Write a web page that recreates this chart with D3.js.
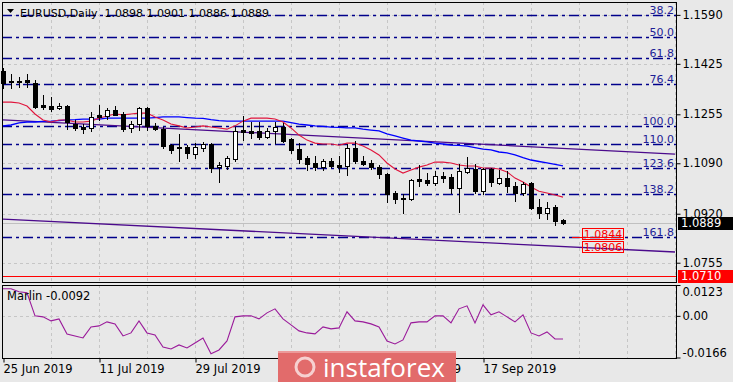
<!DOCTYPE html>
<html><head><meta charset="utf-8">
<script src="https://cdn.jsdelivr.net/npm/d3@7/dist/d3.min.js"></script>
<style>
html,body{margin:0;padding:0;background:#e8e8e8;}
svg{display:block;font-family:"DejaVu Sans",sans-serif;}
</style></head><body>
<svg id="chart" width="733" height="382"></svg>
<script>
// ---------- DATA ----------
const dates = ["2019-06-25","2019-06-26","2019-06-27","2019-06-28","2019-07-01","2019-07-02","2019-07-03","2019-07-04","2019-07-05",
"2019-07-08","2019-07-09","2019-07-10","2019-07-11","2019-07-12","2019-07-15","2019-07-16","2019-07-17","2019-07-18","2019-07-19",
"2019-07-22","2019-07-23","2019-07-24","2019-07-25","2019-07-26","2019-07-29","2019-07-30","2019-07-31","2019-08-01","2019-08-02",
"2019-08-05","2019-08-06","2019-08-07","2019-08-08","2019-08-09","2019-08-12","2019-08-13","2019-08-14","2019-08-15","2019-08-16",
"2019-08-19","2019-08-20","2019-08-21","2019-08-22","2019-08-23","2019-08-26","2019-08-27","2019-08-28","2019-08-29","2019-08-30",
"2019-09-02","2019-09-03","2019-09-04","2019-09-05","2019-09-06","2019-09-09","2019-09-10","2019-09-11","2019-09-12","2019-09-13",
"2019-09-16","2019-09-17","2019-09-18","2019-09-19","2019-09-20","2019-09-23","2019-09-24","2019-09-25","2019-09-26","2019-09-27",
"2019-09-30","2019-10-01"];
const open  = [1.1401,1.1367,1.1367,1.1372,1.1360,1.1286,1.1283,1.1275,1.1283,1.1222,1.1212,1.1209,1.1253,1.1249,1.1269,1.1256,1.1209,1.1221,1.1276,
1.1217,1.1207,1.1151,1.1145,1.1145,1.1121,1.1143,1.1155,1.1076,1.1081,1.1104,1.1202,1.1199,1.1199,1.1178,1.1199,1.1212,1.1172,1.1138,1.1108,
1.1091,1.1076,1.1098,1.1084,1.1081,1.1141,1.1098,1.1091,1.1077,1.1054,1.0990,1.0973,1.0969,1.1037,1.1034,1.1023,1.1047,1.1044,1.1008,1.1062,
1.1072,1.0996,1.1071,1.1023,1.1040,1.1013,1.0990,1.1023,1.0943,1.0922,1.0943,1.0898];
const high  = [1.1411,1.1391,1.1381,1.1391,1.1371,1.1320,1.1313,1.1293,1.1286,1.1236,1.1222,1.1263,1.1286,1.1276,1.1283,1.1263,1.1232,1.1280,1.1280,
1.1226,1.1212,1.1155,1.1189,1.1151,1.1158,1.1163,1.1158,1.1094,1.1114,1.1212,1.1249,1.1229,1.1229,1.1209,1.1229,1.1226,1.1175,1.1158,1.1114,
1.1114,1.1104,1.1108,1.1114,1.1155,1.1165,1.1114,1.1101,1.1084,1.1057,1.0996,1.0986,1.1037,1.1084,1.1057,1.1064,1.1060,1.1054,1.1087,1.1111,
1.1087,1.1074,1.1074,1.1067,1.1064,1.1027,1.1027,1.1027,1.0970,1.0960,1.0951,1.0901];
const low   = [1.1344,1.1344,1.1347,1.1347,1.1276,1.1273,1.1266,1.1273,1.1205,1.1202,1.1192,1.1199,1.1236,1.1239,1.1253,1.1199,1.1195,1.1202,1.1202,
1.1202,1.1141,1.1126,1.1098,1.1108,1.1108,1.1131,1.1060,1.1027,1.1071,1.1098,1.1168,1.1175,1.1172,1.1175,1.1158,1.1163,1.1126,1.1091,1.1067,
1.1067,1.1067,1.1077,1.1060,1.1050,1.1091,1.1084,1.1071,1.1040,1.0959,1.0956,1.0922,1.0966,1.1015,1.1018,1.1017,1.1027,1.0990,1.0926,1.1057,
1.0990,1.0986,1.1013,1.1020,1.0993,1.0963,1.0983,1.0936,1.0905,1.0902,1.0882,1.0886];
const close = [1.1360,1.1364,1.1365,1.1365,1.1280,1.1280,1.1273,1.1283,1.1229,1.1210,1.1204,1.1246,1.1246,1.1269,1.1254,1.1207,1.1222,1.1276,1.1216,
1.1207,1.1148,1.1136,1.1141,1.1126,1.1145,1.1155,1.1074,1.1084,1.1108,1.1199,1.1195,1.1192,1.1177,1.1199,1.1212,1.1165,1.1135,1.1106,1.1087,
1.1076,1.1096,1.1082,1.1079,1.1141,1.1098,1.1089,1.1076,1.1054,1.0986,1.0968,1.0969,1.1034,1.1030,1.1023,1.1047,1.1040,1.1008,1.1064,1.1074,
1.0996,1.1071,1.1027,1.1040,1.1013,1.0991,1.1020,1.0939,1.0921,1.0939,1.0895,1.0889];
const maFast = [1.1296,1.1296,1.1293,1.1283,1.1256,1.1236,1.1229,1.1236,1.1236,1.1229,1.1229,1.1232,1.1242,1.1249,1.1256,1.1253,1.1256,1.1259,1.1259,
1.1246,1.1236,1.1222,1.1216,1.1209,1.1212,1.1216,1.1212,1.1209,1.1205,1.1216,1.1232,1.1242,1.1242,1.1242,1.1239,1.1229,1.1209,1.1185,1.1168,
1.1158,1.1155,1.1155,1.1151,1.1158,1.1158,1.1148,1.1135,1.1118,1.1091,1.1071,1.1057,1.1067,1.1077,1.1084,1.1094,1.1094,1.1091,1.1084,1.1081,
1.1081,1.1074,1.1074,1.1071,1.1061,1.1040,1.1027,1.1010,1.0996,1.0990,1.0983,1.0976];
const maSlow = [1.1216,1.1219,1.1226,1.1229,1.1229,1.1231,1.1232,1.1234,1.1236,1.1237,1.1239,1.1239,1.1239,1.1242,1.1242,1.1242,1.1242,1.1242,1.1242,
1.1244,1.1246,1.1246,1.1246,1.1244,1.1242,1.1241,1.1237,1.1234,1.1232,1.1232,1.1232,1.1232,1.1232,1.1232,1.1232,1.1232,1.1227,1.1222,1.1219,
1.1216,1.1214,1.1212,1.1211,1.1209,1.1209,1.1205,1.1202,1.1199,1.1189,1.1182,1.1175,1.1168,1.1165,1.1162,1.1158,1.1155,1.1151,1.1150,1.1148,
1.1143,1.1138,1.1135,1.1128,1.1125,1.1118,1.1109,1.1101,1.1096,1.1091,1.1086,1.1081];
const marlin = [0.0108,0.0108,0.0096,0.0092,0.0000,-0.0004,-0.0020,-0.0012,-0.0072,-0.0080,-0.0088,-0.0044,-0.0040,-0.0024,-0.0032,-0.0080,-0.0068,-0.0020,-0.0068,
-0.0076,-0.0124,-0.0132,-0.0116,-0.0128,-0.0108,-0.0088,-0.0151,-0.0136,-0.0100,-0.0004,0.0000,0.0000,-0.0012,0.0012,0.0028,-0.0012,-0.0036,-0.0060,-0.0068,
-0.0072,-0.0044,-0.0052,-0.0048,0.0016,-0.0020,-0.0024,-0.0032,-0.0044,-0.0100,-0.0112,-0.0096,-0.0028,-0.0024,-0.0024,0.0000,0.0000,-0.0028,0.0028,0.0040,
-0.0028,0.0044,0.0004,0.0016,-0.0004,-0.0024,0.0004,-0.0068,-0.0080,-0.0064,-0.0092,-0.0092];
// trend lines: [startIndex, startPrice, endIndex, endPrice]
const upperTrend = [0, 1.1236, 84, 1.1121];
const lowerTrend = [0, 1.0902, 84, 1.0791];
const fibLevels = ["38.2","50.0","61.8","76.4","100.0","110.0","123.6","138.2","161.8"];
const fibPrices = [1.1589,1.1517,1.1446,1.1358,1.1216,1.1155,1.1073,1.0985,1.0843];
const supportLine = 1.0710;
const lastPrice = 1.0889;
const priceTicks = [1.1590,1.1425,1.1255,1.1090,1.0920,1.0755];
const marlinTicks = [0.0123,0.00,-0.0166];
const marlinTickLabels = ["0.0123","0.00","-0.0166"];
const tickIdx = [0,12,24,36,48,60];
const tickLabels = ["25 Jun 2019","11 Jul 2019","29 Jul 2019","14 Aug 2019","30 Aug 2019","17 Sep 2019"];
const levelBoxes = [["1.0844",1.0843],["1.0806",1.0806]];
const title = "EURUSD,Daily  1.0898 1.0901 1.0886 1.0889";
const indName = "Marlin -0.0092";

// ---------- LAYOUT ----------
const svg = d3.select("#chart");
const L = 2, R = 676, mTop = 2, mBot = 282, iTop = 285, iBot = 358;
const x = d3.scaleLinear().domain([0,84]).range([3,675]);
const y = d3.scaleLinear().domain([1.0690,1.1630]).range([mBot,3]);
const yi = d3.scaleLinear().domain([-0.0166,0.0123]).range([357.5,285]);
const px = v => Math.round(v)+0.5;

svg.append("rect").attr("width",733).attr("height",382).attr("fill","#e8e8e8");

const gridColor = "#c6c6c6";
const vg = d3.range(6,85,6);
[[mTop,mBot],[iTop,iBot]].forEach(([t,b])=>{
  svg.append("g").selectAll("line").data(vg).join("line")
    .attr("x1",i=>px(x(i))).attr("x2",i=>px(x(i))).attr("y1",t).attr("y2",b)
    .attr("stroke",gridColor).attr("stroke-dasharray","3,3");
});
svg.append("g").selectAll("line").data(priceTicks).join("line")
  .attr("x1",L).attr("x2",R).attr("y1",d=>px(y(d))).attr("y2",d=>px(y(d)))
  .attr("stroke",gridColor).attr("stroke-dasharray","3,3");
svg.append("line").attr("x1",L).attr("x2",R).attr("y1",px(yi(0))).attr("y2",px(yi(0)))
  .attr("stroke",gridColor).attr("stroke-dasharray","3,3");

// current price line
svg.append("line").attr("x1",L).attr("x2",R).attr("y1",px(y(lastPrice))).attr("y2",px(y(lastPrice)))
  .attr("stroke","#c0c0c0");

// fib lines
const fibColor = "#00008b";
svg.append("g").selectAll("line").data(fibPrices).join("line")
  .attr("x1",L).attr("x2",R).attr("y1",d=>px(y(d))).attr("y2",d=>px(y(d)))
  .attr("stroke",fibColor).attr("stroke-width",1.3).attr("stroke-dasharray","10,4,3,4");
svg.append("g").selectAll("text").data(fibLevels).join("text")
  .attr("x",674).attr("y",(d,i)=>y(fibPrices[i])-1).attr("text-anchor","end")
  .attr("font-size",11).attr("fill","#1e1e96").text(d=>d);

// support line
svg.append("line").attr("x1",L).attr("x2",R).attr("y1",px(y(supportLine))).attr("y2",px(y(supportLine)))
  .attr("stroke","#ff0000");

// trend lines
[upperTrend, lowerTrend].forEach(t=>{
  svg.append("line").attr("x1",x(t[0])).attr("y1",y(t[1])).attr("x2",x(t[2])).attr("y2",y(t[3]))
    .attr("stroke","#4b0a8c").attr("stroke-width",1.3);
});

// moving averages
const line = d3.line().x((d,i)=>x(i)).y(d=>y(d));
svg.append("path").attr("d",line(maSlow)).attr("fill","none").attr("stroke","#0000ff").attr("stroke-width",1.3);
svg.append("path").attr("d",line(maFast)).attr("fill","none").attr("stroke","#e0143c").attr("stroke-width",1.1);

// candles
const cg = svg.append("g");
dates.forEach((d,i)=>{
  const cx = Math.round(x(i));
  cg.append("line").attr("x1",cx+0.5).attr("x2",cx+0.5).attr("y1",Math.round(y(high[i]))).attr("y2",Math.round(y(low[i]))+1)
    .attr("stroke","#000");
  const top = Math.round(y(Math.max(open[i],close[i]))), bot = Math.round(y(Math.min(open[i],close[i])));
  const bull = close[i] > open[i];
  cg.append("rect").attr("x",cx-1.5).attr("y",top+0.5).attr("width",4).attr("height",Math.max(bot-top,0.01))
    .attr("fill",bull?"#fff":"#000").attr("stroke","#000");
});

// level boxes
const bx = 582, bw = 41;
svg.append("line").attr("x1",572).attr("x2",bx+bw).attr("y1",px(y(levelBoxes[0][1]))).attr("y2",px(y(levelBoxes[0][1]))).attr("stroke","#ff0000");
levelBoxes.forEach(([t,p],k)=>{
  const yy = y(p);
  const top = k===0 ? yy-9 : yy-7;
  svg.append("rect").attr("x",bx+0.5).attr("y",Math.round(top)+0.5).attr("width",bw).attr("height",11)
    .attr("fill","none").attr("stroke","#ff0000");
  svg.append("text").attr("x",bx+bw/2+0.5).attr("y",Math.round(top)+10).attr("text-anchor","middle")
    .attr("font-size",11).attr("fill","#ff0000").text(t);
});

// marlin line
const iline = d3.line().x((d,i)=>x(i)).y(d=>yi(d));
svg.append("path").attr("d",iline(marlin)).attr("fill","none").attr("stroke","#9a1a9a").attr("stroke-width",1.1);

// panel borders
svg.append("rect").attr("x",L+0.5).attr("y",mTop+0.5).attr("width",R-L).attr("height",mBot-mTop).attr("fill","none").attr("stroke","#000");
svg.append("rect").attr("x",L+0.5).attr("y",iTop+0.5).attr("width",R-L).attr("height",iBot-iTop).attr("fill","none").attr("stroke","#000");

// right axis (price)
const ra = svg.append("g").attr("transform",`translate(${R+0.5},0)`)
  .call(d3.axisRight(y).tickValues(priceTicks).tickFormat(d3.format(".4f")).tickSize(4).tickPadding(2));
ra.select(".domain").remove();
ra.selectAll("text").attr("font-size",11.5).attr("font-family","DejaVu Sans").attr("fill","#000");
ra.selectAll("line").attr("stroke","#000");

// indicator right axis
const ia = svg.append("g").attr("transform",`translate(${R+0.5},0)`)
  .call(d3.axisRight(yi).tickValues(marlinTicks).tickFormat((d,i)=>marlinTickLabels[i]).tickSize(4).tickPadding(2));
ia.select(".domain").remove();
ia.selectAll("text").attr("font-size",11.5).attr("font-family","DejaVu Sans").attr("fill","#000")
  .attr("dy",(d,i)=> i===0? "0.95em" : i===2 ? "-0.1em" : "0.32em");
ia.selectAll("line").attr("stroke","#000");

// price labels
function priceTag(p, bg, txt, h0){
  const yy = Math.round(y(p));
  svg.append("rect").attr("x",678).attr("y",yy-h0).attr("width",55).attr("height",13).attr("fill",bg);
  svg.append("text").attr("x",681).attr("y",yy+4).attr("font-size",11.5).attr("fill","#fff").text(txt);
}
priceTag(lastPrice,"#000","1.0889",6);
priceTag(supportLine,"#ff0000","1.0710",6);

// bottom axis
const ba = svg.append("g").attr("transform",`translate(0,${iBot+0.5})`)
  .call(d3.axisBottom(x).tickValues(tickIdx).tickFormat((d,i)=>tickLabels[i]).tickSize(4).tickPadding(2));
ba.select(".domain").remove();
ba.selectAll("text").attr("font-size",11.5).attr("font-family","DejaVu Sans").attr("fill","#000").attr("text-anchor","start");
ba.selectAll("line").attr("stroke","#000").attr("transform","translate(0.5,0)");

// title
svg.append("path").attr("d","M7,9 L14,9 L10.5,13 Z").attr("fill","#000");
svg.append("text").attr("x",20).attr("y",17).attr("font-size",11).attr("fill","#000").attr("xml:space","preserve").text(title);
svg.append("text").attr("x",7).attr("y",300).attr("font-size",11.5).attr("fill","#000").text(indName);

// watermark
const wm = svg.append("g");
wm.append("rect").attr("x",278).attr("y",351).attr("width",178).attr("height",31).attr("fill","#e26b6b");
wm.append("rect").attr("x",278).attr("y",351).attr("width",178).attr("height",2).attr("fill","#ec9a9a");
wm.append("circle").attr("cx",305).attr("cy",367).attr("r",9).attr("fill","none").attr("stroke","#f6d0d0").attr("stroke-width",3);
wm.append("text").attr("x",323).attr("y",377).attr("font-family","Open Sans").attr("font-size",26).attr("fill","#fff").text("instaforex");
</script>
</body></html>
